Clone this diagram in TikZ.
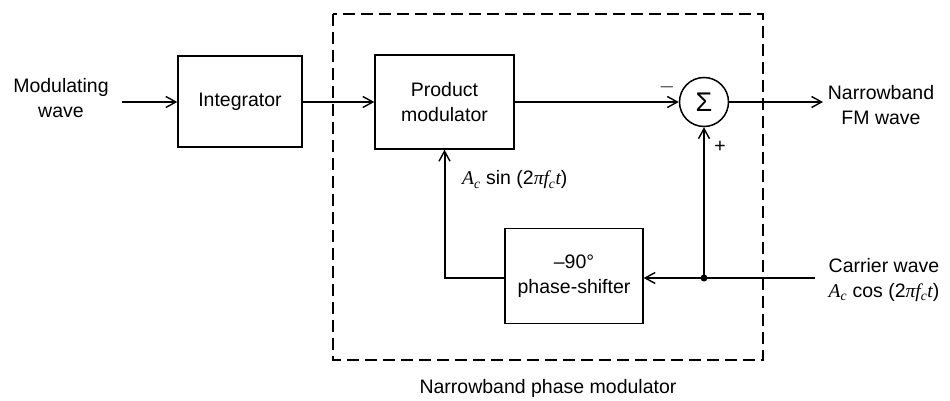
\documentclass[tikz,border=0pt]{standalone}
\usepackage{fontspec}
\setmainfont{Liberation Sans}
\newfontfamily\tms{Liberation Serif}
\usetikzlibrary{arrows.meta}
\begin{document}
\begin{tikzpicture}[x=1pt,y=-1pt,
  every node/.style={font=\fontsize{19.5}{25}\selectfont, inner sep=0pt},
  blk/.style={draw, line width=1.5pt, rectangle, align=center},
  lbl/.style={align=center},
  wire/.style={line width=2pt},
  arr/.style={wire, -{Straight Barb[length=10pt,width=11pt,line width=1.4pt]}},
  frame/.style={line width=1.6pt, dash pattern=on 12pt off 6pt}]
\useasboundingbox (0,0) rectangle (950,401);
% frame
\draw[frame] (333,14) rectangle (763,360);
% blocks
\node[blk, minimum width=124pt, minimum height=91pt] (int) at (240,101.5) {Integrator};
\node[blk, minimum width=139pt, minimum height=94pt] (prod) at (444.5,102) {Product\\modulator};
\node[blk, minimum width=138pt, minimum height=95pt] (ps) at (574,276) {--90\textdegree\\phase-shifter};
\node[draw, circle, line width=1.5pt, minimum size=49pt] (sig) at (704,102) {\fontsize{27}{27}\selectfont\char"03A3};
% text labels
\node[lbl] (min) at (61,98) {Modulating\\wave};
\node[lbl] (outl) at (881,105) {Narrowband\\FM wave};
\node[lbl] (carl) at (884,280) {Carrier wave\\{\tms\itshape A\textsubscript{c}} cos (2{\tms\itshape\char"03C0 f\textsubscript{c}t})};
\node[anchor=west] (sinl) at (462,180) {{\tms\itshape A\textsubscript{c}} sin (2{\tms\itshape\char"03C0 f\textsubscript{c}t})};
\node (minus) at (667,87) {$-$};
\node (plus) at (720,147) {+};
\node (npm) at (548,388) {Narrowband phase modulator};
% coordinates
\coordinate (mstart) at (122,102);
\coordinate (oend) at (823,102);
\coordinate (cin) at (815,278);
\coordinate (j) at (704,278);
% connectors
\draw[arr] (mstart) -- (int.west |- mstart);
\draw[arr] (int.east |- prod) -- (prod.west);
\draw[arr] (prod.east) -- (sig.west);
\draw[arr] (sig.east) -- (oend);
\draw[wire] (cin) -- (j);
\draw[arr] (j) -- (ps.east |- j);
\draw[arr] (j) -- (sig.south);
\draw[arr] (ps.west |- j) -| (prod.south);
\fill (j) circle (3.5pt);
\end{tikzpicture}
\end{document}
